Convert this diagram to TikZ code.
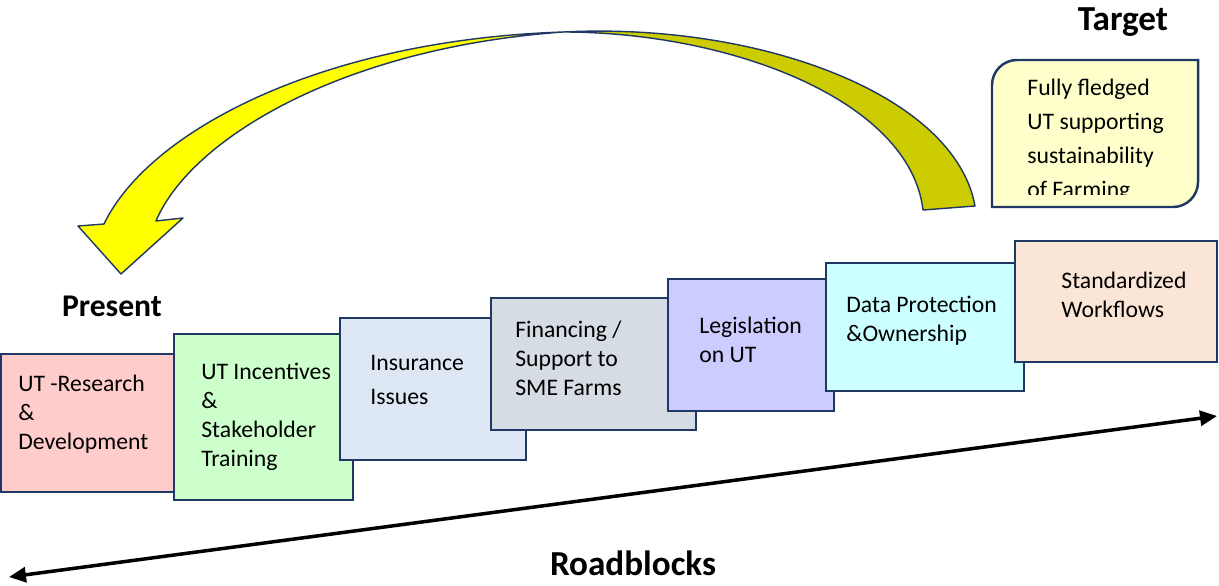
\documentclass[tikz,border=0pt]{standalone}
\usepackage{fontspec}
\setmainfont{Carlito}
\usetikzlibrary{arrows.meta}

\definecolor{navy}{HTML}{1F3864}
\definecolor{ribbonyellow}{HTML}{FFFF00}
\definecolor{ribbonolive}{HTML}{CCCC00}
\definecolor{rdpink}{HTML}{FFCCCC}
\definecolor{incgreen}{HTML}{CCFFCC}
\definecolor{insblue}{HTML}{DEE8F4}
\definecolor{fingray}{HTML}{D6DCE4}
\definecolor{leglavender}{HTML}{CCCCFF}
\definecolor{datacyan}{HTML}{CCFFFF}
\definecolor{wfpeach}{HTML}{FBE5D6}
\definecolor{targetcream}{HTML}{FFFFCC}

\tikzset{
  block/.style 2 args={draw=navy,line width=1.4pt,rectangle,inner sep=0pt,
    minimum width=#1*0.02cm,minimum height=#2*0.02cm},
  blocktext/.style={anchor=west,align=left,inner sep=0pt,
    font=\fontsize{13.5}{16.5}\selectfont},
  heading/.style={inner sep=0pt,font=\bfseries\fontsize{20}{24}\selectfont},
  ribbon/.style={draw=navy,line width=0.8pt,line join=round},
}

\begin{document}
\begin{tikzpicture}[x=0.02cm,y=-0.02cm]
\useasboundingbox (0,0) rectangle (1219,585);

% curved arrow: back face of the ribbon
\filldraw[ribbon,fill=ribbonolive] (563,32) .. controls (760,22) and (955,95) .. (975,206)
  -- (923,210) .. controls (910,100) and (730,32) .. (563,32) -- cycle;

% front face with the head
\filldraw[ribbon,fill=ribbonyellow] (563,32) .. controls (320,40) and (148,132) .. (104,224)
  -- (78,226) -- (121,274) -- (183,218) -- (156,221)
  .. controls (190,140) and (340,48) .. (563,32) -- cycle;

% target box, two corners rounded
\filldraw[draw=navy,line width=1.4pt,fill=targetcream]
  (992,207) -- (992,85) .. controls (992,71.2) and (1003.2,60) .. (1017,60)
  -- (1198,60) -- (1198,182) .. controls (1198,195.8) and (1186.8,207) .. (1173,207) -- cycle;
\begin{scope}
  \clip (992,62) rectangle (1196,194);
  \node[blocktext,font=\fontsize{13.5}{19.3}\selectfont] (targettext) at (1027,140)
    {Fully fledged\\UT supporting\\sustainability\\of Farming};
\end{scope}

% roadblock steps
\node[block={174}{138},fill=rdpink] (rd) at (88,423) {};
\node[blocktext] (rdtext) at (18,414) {UT -Research\\\&\\Development};

\node[block={179}{166},fill=incgreen] (inc) at (263.5,417) {};
\node[blocktext] (inctext) at (201,417) {UT Incentives\\\&\\Stakeholder\\Training};

\node[block={186}{142},fill=insblue] (ins) at (433,389) {};
\node[blocktext,font=\fontsize{13.5}{19.3}\selectfont] (instext) at (370,380) {Insurance\\Issues};

\node[block={205}{132},fill=fingray] (fin) at (593.5,364) {};
\node[blocktext] (fintext) at (515,358) {Financing /\\Support to\\SME Farms};

\node[block={166}{132},fill=leglavender] (leg) at (751,345) {};
\node[blocktext] (legtext) at (699,340) {Legislation\\on UT};

\node[block={198}{128},fill=datacyan] (data) at (925,327) {};
\node[blocktext] (datatext) at (846,321) {Data Protection\\\&Ownership};

\node[block={202}{121},fill=wfpeach] (wf) at (1116,301.5) {};
\node[blocktext] (wftext) at (1061,295) {Standardized\\Workflows};

% labels
\node[heading] (target) at (1123,22) {Target};
\node[heading,font=\bfseries\fontsize{18}{22}\selectfont] (present) at (112,306) {Present};
\node[heading] (roadblocks) at (633,563) {Roadblocks};

% roadblock axis
\coordinate (roadstart) at (9,577);
\coordinate (roadend) at (1217,416);
\draw[line width=2pt,{Triangle[length=0.34cm,width=0.3cm]}-{Triangle[length=0.34cm,width=0.3cm]}] (roadstart) -- (roadend);
\end{tikzpicture}
\end{document}
